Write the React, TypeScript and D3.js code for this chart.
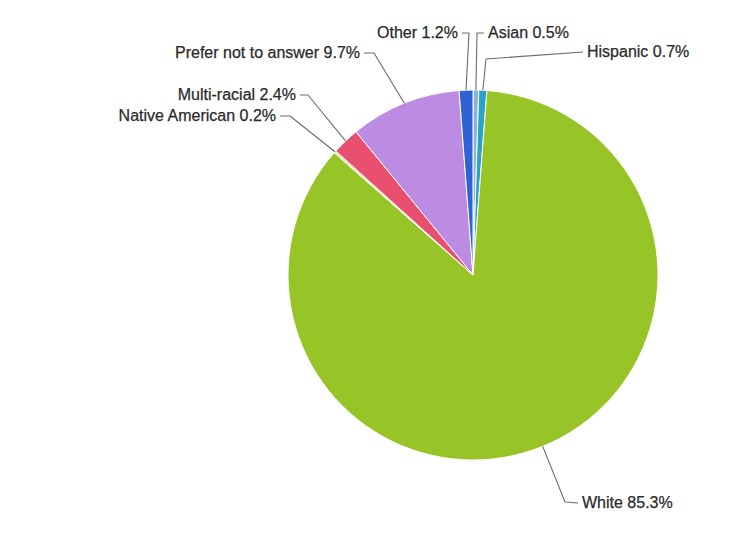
import React from "react";
import * as d3 from "d3";

// Survey responses by race / ethnicity (percent of respondents)
const categories = [
  "Asian",
  "Hispanic",
  "White",
  "Native American",
  "Multi-racial",
  "Prefer not to answer",
  "Other",
];
const values = [0.5, 0.7, 85.3, 0.2, 2.4, 9.7, 1.2];
const colors = [
  "#8db3d9",
  "#2aa4c6",
  "#97c427",
  "#f2e2a4",
  "#e9506f",
  "#bb8ce1",
  "#2f62d4",
];

// Label placement: text anchor point, alignment and connector bend point
const labelLayout = [
  { x: 488, y: 38, anchor: "start", bend: [477, 33] },
  { x: 587, y: 57, anchor: "start", bend: [486, 59] },
  { x: 582, y: 508, anchor: "start", bend: [565, 502] },
  { x: 276, y: 121, anchor: "end", bend: [290, 116] },
  { x: 296, y: 100, anchor: "end", bend: [308, 95] },
  { x: 360, y: 58, anchor: "end", bend: [374, 53] },
  { x: 458, y: 38, anchor: "end", bend: [469, 33] },
];

const W = 749;
const H = 550;
const cx = 473;
const cy = 275;
const R = 185;

export default function App() {
  const data = categories.map((c, i) => ({ name: c, value: values[i], color: colors[i] }));
  const pie = d3
    .pie<{ name: string; value: number; color: string }>()
    .value((d) => d.value)
    .sort(null)
    .startAngle(0)
    .endAngle(2 * Math.PI);
  const arcs = pie(data);
  const arc = d3.arc<any>().innerRadius(0).outerRadius(R);
  const edge = d3.arc<any>().innerRadius(R).outerRadius(R);

  return (
    <svg
      width={W}
      height={H}
      style={{ position: "absolute", left: 0, top: 0, background: "#fff" }}
      fontFamily="'Liberation Sans', Arial, Helvetica, sans-serif"
    >
      <g transform={`translate(${cx},${cy})`}>
        {arcs.map((a, i) => (
          <path key={i} d={arc(a) as string} fill={a.data.color} stroke="#fff" strokeWidth={1} strokeLinejoin="round" />
        ))}
      </g>
      {arcs.map((a, i) => {
        const L = labelLayout[i];
        const [ex, ey] = edge.centroid(a);
        const px = cx + ex;
        const py = cy + ey;
        const dir = L.anchor === "start" ? -1 : 1;
        const tx = L.x + dir * 4;
        const ty = L.y - 5;
        const [bx, by] = L.bend;
        const path = d3.path();
        path.moveTo(tx, ty);
        path.lineTo(bx, by);
        path.lineTo(px, py);
        return (
          <g key={`l${i}`}>
            <path d={path.toString()} fill="none" stroke="#6b6b6b" strokeWidth={1.1} strokeLinejoin="round" />
            <text
              x={L.x}
              y={L.y}
              textAnchor={L.anchor}
              fontSize={16}
              fill="#2a2a2a"
              stroke="#2a2a2a"
              strokeWidth={0.25}
            >
              {`${a.data.name} ${d3.format(".1f")(a.data.value)}%`}
            </text>
          </g>
        );
      })}
    </svg>
  );
}
